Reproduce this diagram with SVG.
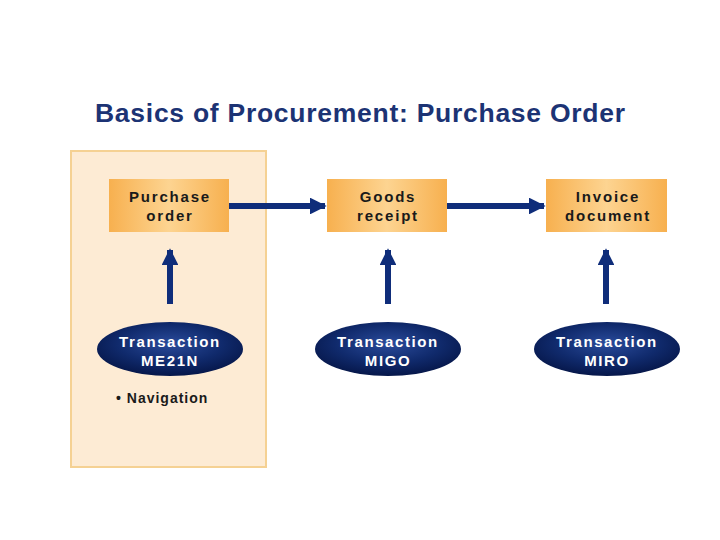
<svg xmlns="http://www.w3.org/2000/svg" width="720" height="540" viewBox="0 0 720 540">
<defs>
<linearGradient id="box" x1="0" y1="0" x2="1" y2="0">
<stop offset="0" stop-color="#f7b04f"/>
<stop offset="0.5" stop-color="#fdd491"/>
<stop offset="1" stop-color="#f7b04f"/>
</linearGradient>
<radialGradient id="ell" cx="0.5" cy="0.4" r="0.6">
<stop offset="0" stop-color="#2a4b9b"/>
<stop offset="0.6" stop-color="#102a6c"/>
<stop offset="1" stop-color="#06174a"/>
</radialGradient>
<marker id="ah" viewBox="0 0 10 10" refX="9" refY="5" markerWidth="2.8" markerHeight="2.8" orient="auto" markerUnits="strokeWidth">
<path d="M0,0 L10,5 L0,10 z" fill="#0f2d7a"/>
</marker>
<style>
.bt{font-family:"Liberation Sans",Arial,sans-serif;font-weight:bold;font-size:15px;fill:#1a1a1a;text-anchor:middle;letter-spacing:1.8px}
.et{font-family:"Liberation Sans",Arial,sans-serif;font-weight:bold;font-size:15px;fill:#ffffff;text-anchor:middle;letter-spacing:1.6px}
.con{stroke:#0f2d7a;stroke-width:6;fill:none;marker-end:url(#ah)}
</style>
</defs>
<rect width="720" height="540" fill="#ffffff"/>
<text x="95" y="122" font-family="'Liberation Sans',Arial,sans-serif" font-weight="bold" font-size="26.5" fill="#1c3374" textLength="530" lengthAdjust="spacing">Basics of Procurement: Purchase Order</text>
<rect id="panel" x="71" y="151" width="195" height="316" fill="#fdebd4" stroke="#f5d193" stroke-width="2"/>
<g id="connectors">
<line class="con" x1="229" y1="206" x2="325" y2="206"/>
<line class="con" x1="447" y1="206" x2="544" y2="206"/>
<line class="con" x1="170" y1="304" x2="170" y2="250"/>
<line class="con" x1="388" y1="304" x2="388" y2="250"/>
<line class="con" x1="606" y1="304" x2="606" y2="250"/>
</g>
<g id="purchase-order">
<rect x="109" y="179" width="120" height="53" fill="url(#box)"/>
<text class="bt" x="170" y="202">Purchase</text>
<text class="bt" x="170" y="221">order</text>
</g>
<g id="goods-receipt">
<rect x="327" y="179" width="120" height="53" fill="url(#box)"/>
<text class="bt" x="388" y="202">Goods</text>
<text class="bt" x="388" y="221">receipt</text>
</g>
<g id="invoice-document">
<rect x="546" y="179" width="121" height="53" fill="url(#box)"/>
<text class="bt" x="608" y="202">Invoice</text>
<text class="bt" x="608" y="221">document</text>
</g>
<g id="me21n">
<ellipse cx="170" cy="349" rx="73" ry="27" fill="url(#ell)"/>
<text class="et" x="170" y="347">Transaction</text>
<text class="et" x="170" y="366">ME21N</text>
</g>
<g id="migo">
<ellipse cx="388" cy="349" rx="73" ry="27" fill="url(#ell)"/>
<text class="et" x="388" y="347">Transaction</text>
<text class="et" x="388" y="366">MIGO</text>
</g>
<g id="miro">
<ellipse cx="607" cy="349" rx="73" ry="27" fill="url(#ell)"/>
<text class="et" x="607" y="347">Transaction</text>
<text class="et" x="607" y="366">MIRO</text>
</g>
<text x="116" y="403" font-family="'Liberation Sans',Arial,sans-serif" font-weight="bold" font-size="14" fill="#1a1a1a" letter-spacing="1">• Navigation</text>
</svg>
